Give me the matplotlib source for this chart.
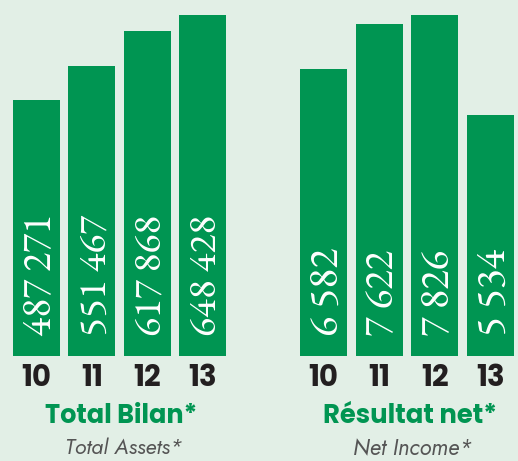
import matplotlib
matplotlib.use("Agg")
import matplotlib.pyplot as plt
from matplotlib import font_manager

years = ["10", "11", "12", "13"]
total_assets = [487271, 551467, 617868, 648428]
net_income = [6582, 7622, 7826, 5534]
titles = ["Total Bilan*", "Résultat net*"]
subtitles = ["Total Assets*", "Net Income*"]

BG = "#e2efe6"
GREEN = "#009552"

fl = font_manager.fontManager.ttflist
def pick(cands, bold=False, italic=False):
    for c in cands:
        for f in fl:
            if f.name != c:
                continue
            w = f.weight if isinstance(f.weight, int) else 400
            if bold and w < 600:
                continue
            if italic and f.style not in ("italic", "oblique"):
                continue
            return c
    return "DejaVu Sans"

SANS_B = pick(["Poppins", "Montserrat", "Kumbh Sans", "Jost", "Lato"], bold=True)
SANS_I = pick(["Jost", "Poppins", "Montserrat", "Lato"], italic=True)
SERIF = pick(["EB Garamond", "Crimson Text", "Liberation Serif"])

W, H = 518, 461
fig = plt.figure(figsize=(W / 100, H / 100), dpi=100, facecolor=BG)
renderer = fig.canvas.get_renderer()

def fit(t, target_w):
    ext = t.get_window_extent(renderer)
    t.set_fontsize(t.get_fontsize() * target_w / ext.width)

def fmt(v):
    return f"{v:,}".replace(",", " ")

base_px = 355.5
panels = [
    (total_assets, 8.8, 221.6, 355.5 * 1905.5, 121, 152, 123.5, 117),
    (net_income, 295.5, 222.8, 355.5 * 22.97, 410, 174, 412.5, 119),
]
for k, (vals, left, width, ymax, tcx, tw, scx, sw) in enumerate(panels):
    ax = fig.add_axes([left / W, (H - base_px) / H, width / W, base_px / H])
    ax.set_facecolor("none")
    x = range(len(vals))
    ax.bar(x, vals, width=0.845, color=GREEN)
    ax.set_xlim(-0.5, 3.5)
    ax.set_ylim(0, ymax)
    for s in ax.spines.values():
        s.set_visible(False)
    ax.set_yticks([])
    ax.set_xticks(list(x))
    ax.set_xticklabels(years, fontsize=21, fontweight="bold", color="#231f20",
                       family=SANS_B)
    ax.tick_params(axis="x", length=0, pad=6)
    for i, v in enumerate(vals):
        t = ax.text(i, 0, fmt(v), rotation=90, ha="center", va="bottom",
                    color="white", fontsize=28, family=SERIF)
        t.set_transform(ax.transData + matplotlib.transforms.ScaledTranslation(
            5.5 / 100, 19.5 / 100, fig.dpi_scale_trans))
        target = [122, 121, 121, 121] if k == 0 else [88, 86, 86, 87]
        fit_len = t.get_window_extent(renderer).height
        t.set_fontsize(t.get_fontsize() * target[i] / fit_len)
    t1 = fig.text(tcx / W, (H - 416) / H, titles[k], ha="center", va="center",
                  color=GREEN, fontsize=20, fontweight="bold", family=SANS_B)
    fit(t1, tw)
    t2 = fig.text(scx / W, (H - 448.5) / H, subtitles[k], ha="center",
                  va="center", color="#555555", fontsize=15, style="italic",
                  family=SANS_I)
    fit(t2, sw)

fig.savefig("out.png", dpi=100, facecolor=BG)
